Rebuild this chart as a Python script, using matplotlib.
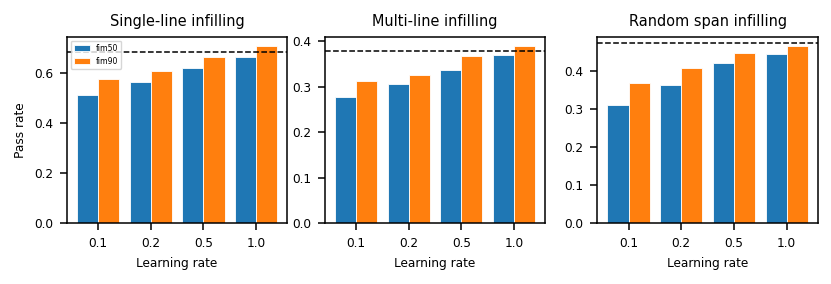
import matplotlib.pyplot as plt
from matplotlib.ticker import MultipleLocator
import numpy as np

learning_rates = ['0.1', '0.2', '0.5', '1.0']
titles = ['Single-line infilling', 'Multi-line infilling', 'Random span infilling']

single_fim50 = [0.512, 0.565, 0.620, 0.664]
single_fim90 = [0.576, 0.609, 0.664, 0.708]
single_base = 0.685

multi_fim50 = [0.278, 0.306, 0.337, 0.369]
multi_fim90 = [0.313, 0.326, 0.368, 0.390]
multi_base = 0.378

span_fim50 = [0.310, 0.363, 0.421, 0.444]
span_fim90 = [0.368, 0.407, 0.448, 0.466]
span_base = 0.474

panels = [
    (single_fim50, single_fim90, single_base),
    (multi_fim50, multi_fim90, multi_base),
    (span_fim50, span_fim90, span_base),
]
ytick_steps = [0.2, 0.1, 0.1]

fig = plt.figure(figsize=(8.31, 2.84), dpi=100)
lefts = [0.0806, 0.391, 0.719]
x = np.arange(len(learning_rates))
w = 0.4
fs = 8.7

for i, (f50, f90, base) in enumerate(panels):
    ax = fig.add_axes([lefts[i], 0.215, 0.265, 0.655])
    ax.bar(x - w / 2, f50, w, color='#1f77b4', edgecolor='white', linewidth=0.6, label='fim50')
    ax.bar(x + w / 2, f90, w, color='#ff7f0e', edgecolor='white', linewidth=0.6, label='fim90')
    ax.axhline(base, color='black', linestyle='--', linewidth=1.1)
    ax.set_xticks(x)
    ax.set_xticklabels(learning_rates)
    ax.yaxis.set_major_locator(MultipleLocator(ytick_steps[i]))
    ax.tick_params(labelsize=fs, length=5, width=1.1, pad=5)
    for s in ax.spines.values():
        s.set_linewidth(1.1)
    ax.set_xlabel('Learning rate', fontsize=fs, labelpad=5)
    ax.set_title(titles[i], fontsize=fs * 1.2, pad=8)
    if i == 0:
        ax.set_ylabel('Pass rate', fontsize=fs, labelpad=5)
        ax.legend(loc='upper left', fontsize=5.6)

plt.savefig('out.png', dpi=100)
plt.close()
